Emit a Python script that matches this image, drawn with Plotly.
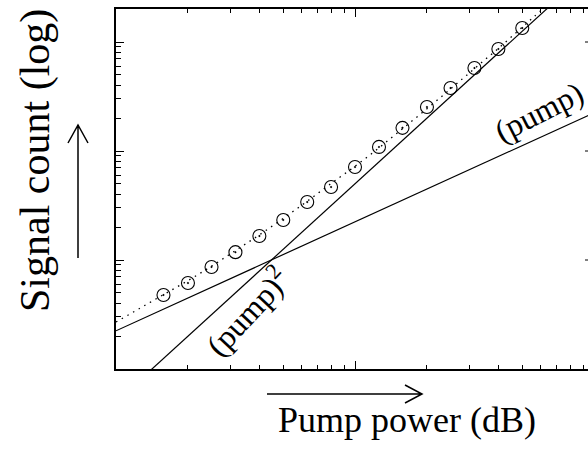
import numpy as np
import plotly.graph_objects as go

# ---- data ----
pump = [1.58, 2.00, 2.51, 3.16, 3.98, 5.01, 6.31, 7.94, 10.0, 12.6, 15.8, 20.0, 25.1, 31.6, 39.8, 50.1]
signal = [4.78, 6.15, 8.63, 11.8, 16.6, 23.3, 34.0, 46.7, 71.3, 109, 163, 253, 378, 577, 863, 1343]

fit_x = [1.0, 1.26, 1.58, 2.00, 2.51, 3.16, 3.98, 5.01, 6.31, 7.94, 10.0, 12.6, 15.8, 20.0, 25.1, 31.6, 39.8, 50.1, 56.2, 63.0]
fit_y = [2.70, 3.61, 4.81, 6.47, 8.78, 12.2, 17.0, 24.1, 34.6, 50.3, 72.4, 107, 160, 244, 371, 570, 875, 1368, 1711, 2150]

lin_x = [1.0, 100.0]
lin_y = [2.24, 224.0]
quad_x = [1.0, 100.0]
quad_y = [0.50, 5000.0]

x_major = [10]
x_minor = [2, 3, 4, 5, 6, 7, 8, 9, 20, 30, 40, 50, 60, 70, 80, 90]
y_major = [10, 100, 1000]
y_minor = [2, 3, 4, 5, 6, 7, 8, 9, 20, 30, 40, 50, 60, 70, 80, 90,
           200, 300, 400, 500, 600, 700, 800, 900, 2000]

W, H = 588, 460
L, R, T, B = 116, 588, 9, 369
XMAX_LOG = (R - L) / 239.0
YMAX_LOG = (B - T) / 109.0

def px(x):
    return (x - L) / (R - L)

def py(y):
    return (B - y) / (B - T)

FONT = "Liberation Serif, Times New Roman, serif"

fig = go.Figure()
fig.add_trace(go.Scatter(x=lin_x, y=lin_y, mode="lines",
                         line=dict(color="black", width=1.2), showlegend=False))
fig.add_trace(go.Scatter(x=quad_x, y=quad_y, mode="lines",
                         line=dict(color="black", width=1.2), showlegend=False))
fig.add_trace(go.Scatter(x=fit_x, y=fit_y, mode="lines", line_shape="spline",
                         line=dict(color="black", width=1.3, dash="1.5px,5px"),
                         showlegend=False))
fig.add_trace(go.Scatter(x=pump, y=signal, mode="markers",
                         marker=dict(symbol="circle-open-dot", size=13,
                                     color="black", line=dict(width=1.1)),
                         showlegend=False))

axis_common = dict(showgrid=False, zeroline=False, showticklabels=False,
                   showline=True, linecolor="black", linewidth=1.5,
                   ticks="inside", tickcolor="black", tickwidth=1, ticklen=8)

fig.update_xaxes(type="log", range=[0, XMAX_LOG], mirror="ticks",
                 tickmode="array", tickvals=x_major,
                 minor=dict(tickmode="array", tickvals=x_minor, ticks="inside",
                            ticklen=4, tickcolor="black", tickwidth=1, showgrid=False),
                 **axis_common)
fig.update_yaxes(type="log", range=[0, YMAX_LOG], mirror=False,
                 tickmode="array", tickvals=y_major,
                 minor=dict(tickmode="array", tickvals=y_minor, ticks="inside",
                            ticklen=5, tickcolor="black", tickwidth=1, showgrid=False),
                 **axis_common)

shapes = []
# right-side major ticks (frame edge is just outside the picture)
for v in y_major:
    f = np.log10(v) / YMAX_LOG
    shapes.append(dict(type="line", xref="paper", yref="paper",
                       x0=px(585), x1=px(588), y0=f, y1=f,
                       line=dict(color="black", width=1)))
# horizontal arrow
shapes.append(dict(type="path", xref="paper", yref="paper",
                   path=f"M {px(267)},{py(394)} L {px(422)},{py(394)} "
                        f"M {px(405)},{py(385)} L {px(422)},{py(394)} L {px(405)},{py(403)}",
                   line=dict(color="black", width=1.5)))
# vertical arrow
shapes.append(dict(type="path", xref="paper", yref="paper",
                   path=f"M {px(78)},{py(258)} L {px(78)},{py(125)} "
                        f"M {px(68)},{py(143)} L {px(78)},{py(125)} L {px(88)},{py(143)}",
                   line=dict(color="black", width=1.5)))

annotations = [
    dict(text="Pump power (dB)", xref="paper", yref="paper", x=px(407), y=py(420),
         showarrow=False, font=dict(family=FONT, size=36, color="black"),
         xanchor="center", yanchor="middle"),
    dict(text="Signal count (log)", xref="paper", yref="paper", x=px(35), y=py(161),
         showarrow=False, textangle=-90, font=dict(family=FONT, size=42, color="black"),
         xanchor="center", yanchor="middle"),
    dict(text="(pump)", xref="paper", yref="paper", x=px(539), y=py(112),
         showarrow=False, textangle=-27, font=dict(family=FONT, size=32, color="black"),
         xanchor="center", yanchor="middle"),
    dict(text="(pump)<sup>2</sup>", xref="paper", yref="paper", x=px(246), y=py(311),
         showarrow=False, textangle=-47, font=dict(family=FONT, size=32, color="black"),
         xanchor="center", yanchor="middle"),
]

fig.update_layout(width=W, height=H,
                  margin=dict(l=L, r=W - R, t=T, b=H - B, pad=0),
                  paper_bgcolor="white", plot_bgcolor="white",
                  shapes=shapes, annotations=annotations,
                  font=dict(family=FONT, color="black"))

fig.write_html("out.html")
